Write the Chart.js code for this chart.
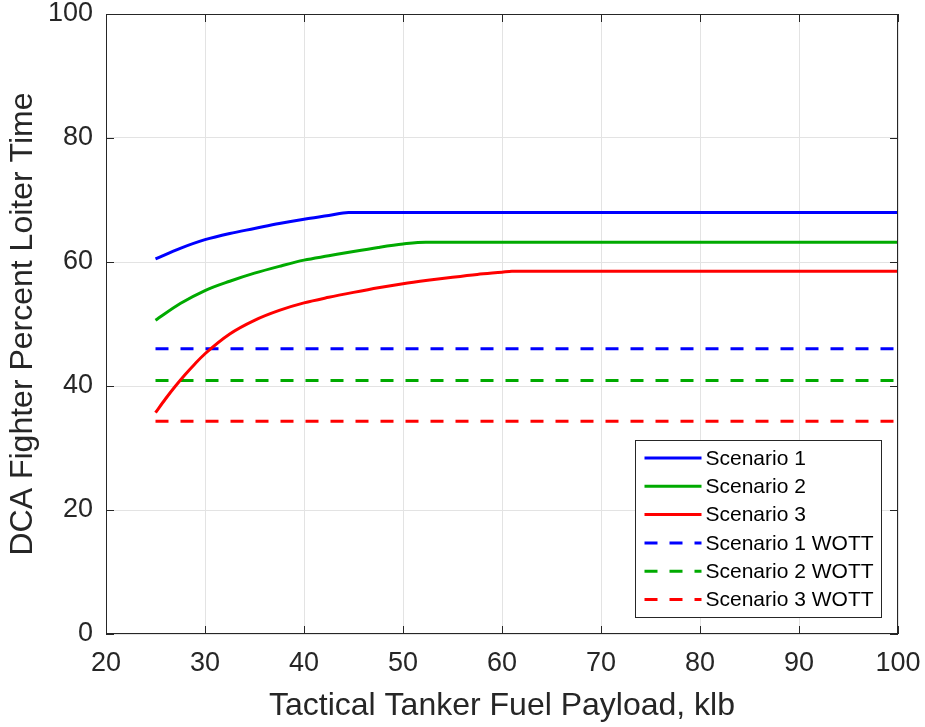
<!DOCTYPE html>
<html>
<head>
<meta charset="utf-8">
<script src="https://cdn.jsdelivr.net/npm/chart.js@4"></script>
<style>
  body { margin: 0; background: #fff; }
  #chart { display: block; }
</style>
</head>
<body>
<canvas id="chart" width="925" height="727"></canvas>
<script>
// loiter time vs fuel payload, one curve per scenario
const s1Payload = [25, 27.5, 30, 32.5, 35, 37.5, 40, 42.5, 44.5, 100];
const s1Loiter = [60.5, 62.2, 63.6, 64.6, 65.4, 66.2, 66.9, 67.5, 68.0, 68.0];

const s2Payload = [25, 27.5, 30, 32.5, 35, 37.5, 40, 42.5, 45, 47.5, 50, 52.3, 100];
const s2Loiter = [50.6, 53.3, 55.4, 56.9, 58.2, 59.3, 60.3, 61.0, 61.7, 62.35, 62.9, 63.2, 63.2];

const s3Payload = [25, 26, 27, 28, 29, 30, 32.5, 35, 37.5, 40, 42.5, 45, 47.5, 50, 52.5, 55, 57.5, 60, 61, 100];
const s3Loiter = [35.7, 37.9, 39.95, 41.85, 43.6, 45.2, 48.4, 50.6, 52.2, 53.4, 54.3, 55.1, 55.85, 56.5, 57.05, 57.55, 58.0, 58.35, 58.5, 58.5];

// without tactical tanker: constant levels
const wottPayload = [25, 100];
const s1Wott = [46.0, 46.0];
const s2Wott = [40.9, 40.9];
const s3Wott = [34.3, 34.3];

const xTicks = [20, 30, 40, 50, 60, 70, 80, 90, 100];
const yTicks = [0, 20, 40, 60, 80, 100];

const BLUE = '#0000ff';
const GREEN = '#00aa00';
const RED = '#ff0000';
const INK = '#262626';
const FONT = "'Liberation Sans', Arial, Helvetica, sans-serif";

const pts = (xs, ys) => xs.map((x, i) => ({x: x, y: ys[i]}));

const line = (label, xs, ys, color, dash) => ({
    label: label,
    data: pts(xs, ys),
    showLine: true,
    borderColor: color,
    backgroundColor: color,
    borderWidth: 3,
    borderDash: dash || [],
    borderCapStyle: 'butt',
    pointRadius: 0,
    pointHoverRadius: 0,
    cubicInterpolationMode: 'monotone'
});

// box around the axes, inward ticks and the legend
const frame = {
    id: 'frame',
    afterDatasetsDraw(chart) {
        const {ctx, chartArea: a, scales: {x, y}} = chart;
        ctx.save();
        ctx.strokeStyle = INK;
        ctx.lineWidth = 1;
        ctx.strokeRect(a.left + 0.5, a.top + 0.5, a.right - a.left - 1, a.bottom - a.top - 1);

        const tl = 8;
        ctx.beginPath();
        xTicks.forEach(v => {
            const px = Math.round(x.getPixelForValue(v)) + 0.5;
            ctx.moveTo(px, a.bottom); ctx.lineTo(px, a.bottom - tl);
            ctx.moveTo(px, a.top); ctx.lineTo(px, a.top + tl);
        });
        yTicks.forEach(v => {
            const py = Math.round(y.getPixelForValue(v)) + 0.5;
            ctx.moveTo(a.left, py); ctx.lineTo(a.left + tl, py);
            ctx.moveTo(a.right, py); ctx.lineTo(a.right - tl, py);
        });
        ctx.stroke();

        // legend
        const w = 246, h = 177;
        const bx = Math.round(a.right - 17 - w) + 0.5;
        const by = Math.round(a.bottom - 17 - h) + 0.5;
        ctx.fillStyle = '#fff';
        ctx.fillRect(bx, by, w, h);
        ctx.strokeRect(bx, by, w, h);

        ctx.font = '21px ' + FONT;
        ctx.textBaseline = 'middle';
        chart.data.datasets.forEach((ds, i) => {
            const ry = by + 17.5 + i * 28.3;
            ctx.save();
            ctx.strokeStyle = ds.borderColor;
            ctx.lineWidth = 3;
            ctx.setLineDash(ds.borderDash);
            ctx.beginPath();
            ctx.moveTo(bx + 9, ry);
            ctx.lineTo(bx + 66, ry);
            ctx.stroke();
            ctx.restore();
            ctx.fillStyle = '#000';
            ctx.fillText(ds.label, bx + 70, ry + 1);
        });
        ctx.restore();
    }
};

new Chart(document.getElementById('chart'), {
    type: 'scatter',
    data: {
        datasets: [
            line('Scenario 1', s1Payload, s1Loiter, BLUE),
            line('Scenario 2', s2Payload, s2Loiter, GREEN),
            line('Scenario 3', s3Payload, s3Loiter, RED),
            line('Scenario 1 WOTT', wottPayload, s1Wott, BLUE, [13, 12]),
            line('Scenario 2 WOTT', wottPayload, s2Wott, GREEN, [13, 12]),
            line('Scenario 3 WOTT', wottPayload, s3Wott, RED, [13, 12])
        ]
    },
    options: {
        responsive: false,
        animation: false,
        layout: {
            padding: {top: 14, right: 27, left: 0, bottom: 0}
        },
        scales: {
            x: {
                type: 'linear',
                min: 20,
                max: 100,
                afterBuildTicks: (scale) => { scale.ticks = xTicks.map(v => ({value: v})); },
                afterFit: (scale) => {
                    scale.height = 93;
                    scale.paddingLeft = 0;
                    scale.paddingRight = 0;
                },
                grid: { color: '#e3e3e3', drawTicks: false },
                border: { display: false },
                ticks: {
                    color: INK,
                    padding: 16,
                    maxRotation: 0,
                    font: { family: FONT, size: 27, lineHeight: 1 }
                },
                title: {
                    display: true,
                    text: 'Tactical Tanker Fuel Payload, klb',
                    color: INK,
                    padding: { top: 0, bottom: 2 },
                    font: { family: FONT, size: 32 }
                }
            },
            y: {
                type: 'linear',
                min: 0,
                max: 100,
                afterBuildTicks: (scale) => { scale.ticks = yTicks.map(v => ({value: v})); },
                afterFit: (scale) => {
                    scale.width = 106;
                    scale.paddingTop = 0;
                    scale.paddingBottom = 0;
                },
                grid: { color: '#e3e3e3', drawTicks: false },
                border: { display: false },
                ticks: {
                    color: INK,
                    padding: 13,
                    font: { family: FONT, size: 27, lineHeight: 1 }
                },
                title: {
                    display: true,
                    text: 'DCA Fighter Percent Loiter Time',
                    color: INK,
                    padding: { top: 4, bottom: 0 },
                    font: { family: FONT, size: 32 }
                }
            }
        },
        plugins: {
            legend: { display: false },
            tooltip: { enabled: false }
        }
    },
    plugins: [frame]
});
</script>
</body>
</html>
